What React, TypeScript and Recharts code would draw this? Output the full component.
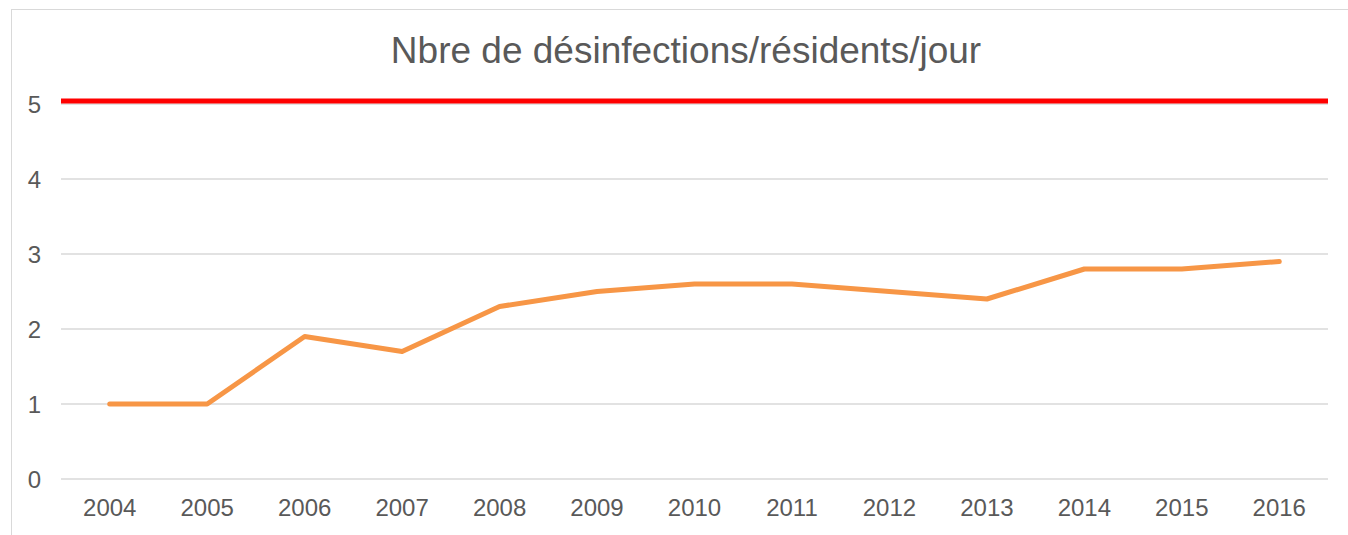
import React from "react";
import { LineChart, Line, XAxis, YAxis, CartesianGrid, ReferenceLine } from "recharts";

const years = ["2004", "2005", "2006", "2007", "2008", "2009", "2010", "2011", "2012", "2013", "2014", "2015", "2016"];
const disinfections = [1, 1, 1.9, 1.7, 2.3, 2.5, 2.6, 2.6, 2.5, 2.4, 2.8, 2.8, 2.9];
const yTicks = [0, 1, 2, 3, 4, 5];
const targetValue = 5.04;
const title = "Nbre de désinfections/résidents/jour";

const data = years.map((y, i) => ({ year: y, value: disinfections[i] }));

const FONT = "'Liberation Sans', Arial, sans-serif";
const TEXT = "#595959";

export default function App() {
  return (
    <div style={{ position: "absolute", left: 0, top: 0, width: 1348, height: 535, overflow: "hidden", background: "#fff" }}>
      <div style={{ position: "absolute", left: 11, top: 9, width: 1400, height: 600, border: "1.5px solid #d9d9d9", boxSizing: "border-box" }} />
      <div style={{ position: "absolute", left: 0, top: 0 }}>
        <LineChart width={1348} height={535} data={data} margin={{ top: 104, right: 20, bottom: 0, left: 0 }}>
          <text x={686} y={63} textAnchor="middle" fill={TEXT} style={{ fontFamily: FONT, fontSize: 37 }}>
            {title}
          </text>
          <CartesianGrid horizontal vertical={false} stroke="#d9d9d9" strokeWidth={1.5} />
          <XAxis
            dataKey="year"
            scale="band"
            axisLine={false}
            tickLine={false}
            tickSize={0}
            tickMargin={20}
            height={56}
            interval={0}
            tick={{ fill: TEXT, fontSize: 24, fontFamily: FONT }}
          />
          <YAxis
            domain={[0, 5]}
            ticks={yTicks}
            axisLine={false}
            tickLine={false}
            tickSize={0}
            tickMargin={20}
            width={61}
            tick={{ fill: TEXT, fontSize: 24, fontFamily: FONT }}
          />
          <ReferenceLine y={targetValue} stroke="#ff0000" strokeWidth={5} ifOverflow="visible" />
          <Line
            type="linear"
            dataKey="value"
            stroke="#f79646"
            strokeWidth={5}
            dot={false}
            activeDot={false}
            strokeLinecap="round"
            strokeLinejoin="round"
            isAnimationActive={false}
          />
        </LineChart>
      </div>
    </div>
  );
}
